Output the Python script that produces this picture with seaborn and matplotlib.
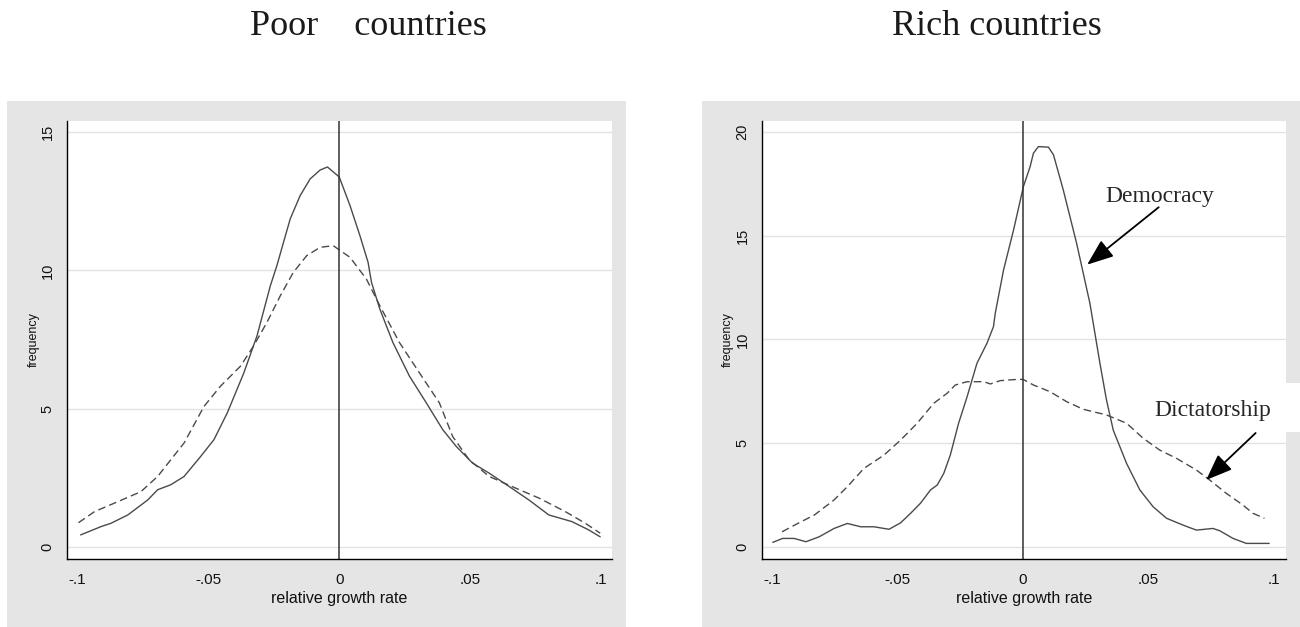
import matplotlib
matplotlib.use("Agg")
import matplotlib.pyplot as plt
import pandas as pd
import seaborn as sns
from matplotlib.patches import Rectangle

sns.set_style("white")
plt.rcParams['font.family'] = ['Liberation Sans', 'DejaVu Sans']

W, H = 1300, 627

# ---------------- data ----------------
# Poor countries, democracy (solid)
poor_dem_x = [-0.0987, -0.0909, -0.0871, -0.0807, -0.0731, -0.0693, -0.0643, -0.0592,
              -0.0529, -0.0478, -0.0427, -0.0364, -0.0314, -0.0263, -0.0238, -0.0213,
              -0.0187, -0.0149, -0.0111, -0.0073, -0.0045, 0.0, 0.0041, 0.0079, 0.011,
              0.0123, 0.0155, 0.0205, 0.0268, 0.0332, 0.0395, 0.0446, 0.0509, 0.0572,
              0.0648, 0.0724, 0.08, 0.0888, 0.0952, 0.0996]
poor_dem_y = [0.45, 0.75, 0.87, 1.17, 1.71, 2.08, 2.26, 2.56,
              3.28, 3.89, 4.86, 6.3, 7.63, 9.44, 10.17, 11.0,
              11.86, 12.7, 13.3, 13.62, 13.73, 13.37, 12.34, 11.25, 10.29,
              9.57, 8.6, 7.39, 6.18, 5.22, 4.25, 3.65, 3.04, 2.68,
              2.2, 1.71, 1.17, 0.93, 0.63, 0.38]

# Poor countries, dictatorship (dashed)
poor_dic_x = [-0.0995, -0.0934, -0.0845, -0.0757, -0.0693, -0.0643, -0.0592, -0.0516,
              -0.0453, -0.0377, -0.0327, -0.0276, -0.0225, -0.0175, -0.0124, -0.0073,
              -0.0023, 0.0041, 0.0104, 0.0155, 0.023, 0.0306, 0.0382, 0.0433, 0.0496,
              0.0572, 0.0673, 0.0762, 0.0863, 0.0939, 0.0996]
poor_dic_y = [0.89, 1.29, 1.65, 2.01, 2.56, 3.16, 3.77, 5.09,
              5.82, 6.54, 7.27, 8.12, 9.08, 9.93, 10.53, 10.83,
              10.89, 10.47, 9.68, 8.72, 7.39, 6.3, 5.22, 4.0, 3.16,
              2.56, 2.14, 1.78, 1.29, 0.87, 0.51]

# Rich countries, democracy (solid)
rich_dem_x = [-0.0997, -0.0958, -0.0912, -0.0865, -0.0812, -0.0753, -0.07, -0.0647,
              -0.0594, -0.0534, -0.0488, -0.0448, -0.0409, -0.0369, -0.0342, -0.0316,
              -0.029, -0.0257, -0.0223, -0.0184, -0.0144, -0.0118, -0.0111, -0.0078,
              -0.0038, 0.0001, 0.0028, 0.0041, 0.0061, 0.0101, 0.0121, 0.016, 0.0213,
              0.0266, 0.0306, 0.0332, 0.0359, 0.0412, 0.0465, 0.0518, 0.0571, 0.0637,
              0.069, 0.0756, 0.0783, 0.0836, 0.0889, 0.098]
rich_dem_y = [0.24, 0.43, 0.43, 0.27, 0.51, 0.91, 1.15, 0.99,
              0.99, 0.87, 1.18, 1.64, 2.12, 2.76, 3.0, 3.56,
              4.44, 5.97, 7.25, 8.85, 9.82, 10.62, 11.26, 13.34,
              15.27, 17.35, 18.32, 18.96, 19.28, 19.25, 18.88, 17.19, 14.63,
              11.74, 8.85, 7.09, 5.64, 4.04, 2.76, 1.95, 1.4, 1.07,
              0.83, 0.91, 0.8, 0.43, 0.19, 0.19]

# Rich countries, dictatorship (dashed)
rich_dic_x = [-0.096, -0.0885, -0.0832, -0.0753, -0.07, -0.0634, -0.0554, -0.0488,
              -0.0422, -0.0356, -0.0303, -0.027, -0.0223, -0.0157, -0.013, -0.0091,
              -0.0025, 0.0, 0.0041, 0.0107, 0.0173, 0.024, 0.0332, 0.0412, 0.0478,
              0.0544, 0.0611, 0.069, 0.0743, 0.0809, 0.0875, 0.0915, 0.0961]
rich_dic_y = [0.75, 1.23, 1.55, 2.28, 2.92, 3.8, 4.44, 5.16,
              5.97, 6.93, 7.41, 7.81, 7.97, 7.97, 7.86, 8.02,
              8.08, 8.08, 7.81, 7.49, 7.01, 6.64, 6.37, 5.97, 5.25,
              4.68, 4.28, 3.72, 3.24, 2.6, 2.04, 1.64, 1.4]

x_ticks = [-0.1, -0.05, 0, 0.05, 0.1]
x_tick_labels = ["-.1", "-.05", "0", ".05", ".1"]
poor_y_ticks = [0, 5, 10, 15]
rich_y_ticks = [0, 5, 10, 15, 20]

LINE_COLOR = '#4a4a4a'
BG_GRAY = '#e5e5e5'


def px_box(x0, y0, x1, y1):
    # pixel box (from top-left) -> figure fraction rect
    return [x0 / W, 1 - y1 / H, (x1 - x0) / W, (y1 - y0) / H]


fig = plt.figure(figsize=(W / 100, H / 100), dpi=100)
fig.patch.set_facecolor('white')

# gray graph regions behind the plots (Stata-like)
for (x0, y0, x1, y1) in [(7, 101, 626, 627), (702, 101, 1300, 627)]:
    r = px_box(x0, y0, x1, y1)
    fig.patches.append(Rectangle((r[0], r[1]), r[2], r[3], transform=fig.transFigure,
                                 facecolor=BG_GRAY, edgecolor='none', zorder=-2))
# white patch behind the "Dictatorship" label where it spills out of the plot
r = px_box(1286, 383, 1300, 432)
fig.patches.append(Rectangle((r[0], r[1]), r[2], r[3], transform=fig.transFigure,
                             facecolor='white', edgecolor='none', zorder=-1))

ax1 = fig.add_axes(px_box(67, 121, 612, 559))
ax2 = fig.add_axes(px_box(762, 121, 1286, 559))


def draw_panel(ax, dem_x, dem_y, dic_x, dic_y, yticks, ylim, xlim, label_x):
    df_dem = pd.DataFrame({'growth': dem_x, 'freq': dem_y})
    df_dic = pd.DataFrame({'growth': dic_x, 'freq': dic_y})
    sns.lineplot(data=df_dem, x='growth', y='freq', ax=ax, color=LINE_COLOR,
                 linewidth=1.0, estimator=None)
    sns.lineplot(data=df_dic, x='growth', y='freq', ax=ax, color=LINE_COLOR,
                 linewidth=1.0, estimator=None, linestyle=(0, (5.5, 3)))
    ax.axvline(0, color='#333333', linewidth=1.1)

    ax.set_facecolor('white')
    ax.set_xlim(*xlim)
    ax.set_ylim(*ylim)
    ax.set_xticks(x_ticks)
    ax.set_xticklabels(x_tick_labels)
    ax.set_yticks(yticks)
    ax.set_yticklabels([str(t) for t in yticks])
    ax.yaxis.grid(True, color='#e2e2e2', linewidth=1.0)
    ax.xaxis.grid(False)
    ax.set_axisbelow(True)

    for side in ['top', 'right']:
        ax.spines[side].set_visible(False)
    for side in ['left', 'bottom']:
        ax.spines[side].set_color('black')
        ax.spines[side].set_linewidth(1.0)

    ax.tick_params(axis='both', direction='out', length=4, width=0.9, color='#555555',
                   labelcolor='#111111', pad=4)
    ax.tick_params(axis='y', labelrotation=90, pad=5, labelsize=10.5)
    ax.tick_params(axis='x', pad=6, labelsize=11)
    for lab in ax.get_yticklabels():
        lab.set_va('center')

    ax.set_xlabel('relative growth rate', fontsize=11.5, color='#111111')
    ax.xaxis.set_label_coords(0.5, -0.072)
    ax.set_ylabel('frequency', fontsize=9, color='#111111')
    ax.yaxis.set_label_coords(label_x, 0.5)


draw_panel(ax1, poor_dem_x, poor_dem_y, poor_dic_x, poor_dic_y,
           poor_y_ticks, (-0.42, 15.39), (-0.1039, 0.1041), -0.050)
draw_panel(ax2, rich_dem_x, rich_dem_y, rich_dic_x, rich_dic_y,
           rich_y_ticks, (-0.56, 20.51), (-0.104, 0.1047), -0.054)

# annotations on the rich-countries panel
arrow = dict(arrowstyle='-|>,head_length=0.9,head_width=0.35', color='black',
             lw=1.3, mutation_scale=18, shrinkA=0, shrinkB=0)
ax2.text(0.0545, 16.9, 'Democracy', ha='center', va='center',
         family='Liberation Serif', fontsize=17)
ax2.annotate('', xy=(0.0255, 13.6), xytext=(0.054, 16.36), arrowprops=arrow)
ax2.text(0.0755, 6.6, 'Dictatorship', ha='center', va='center',
         family='Liberation Serif', fontsize=17)
ax2.annotate('', xy=(0.0729, 3.24), xytext=(0.0926, 5.5), arrowprops=arrow)

# panel titles
fig.text(368 / W, 1 - 35 / H, 'Poor    countries', ha='center', va='baseline',
         family='Liberation Serif', fontsize=26, color='#1a1a1a')
fig.text(997 / W, 1 - 35 / H, 'Rich countries', ha='center', va='baseline',
         family='Liberation Serif', fontsize=26, color='#1a1a1a')

plt.savefig('out.png', dpi=100)
